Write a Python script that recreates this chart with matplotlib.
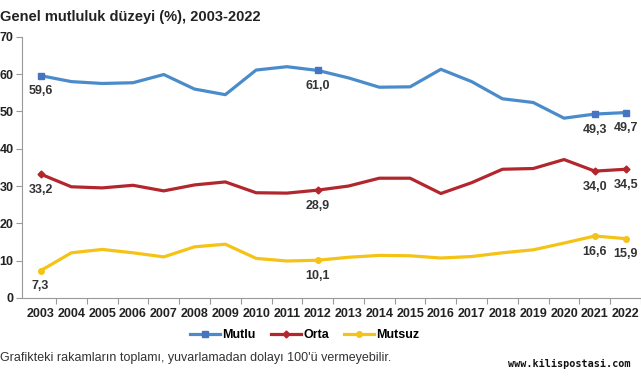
import matplotlib.pyplot as plt
import numpy as np

plt.rcParams['font.family'] = ['Liberation Sans', 'DejaVu Sans']

# Data
years = [str(y) for y in range(2003, 2023)]
mutlu = [59.6, 58.0, 57.5, 57.7, 59.9, 56.0, 54.5, 61.1, 62.0, 61.0,
         59.0, 56.5, 56.6, 61.3, 58.0, 53.4, 52.4, 48.2, 49.3, 49.7]
orta = [33.2, 29.8, 29.5, 30.2, 28.7, 30.3, 31.1, 28.2, 28.1, 28.9,
        30.0, 32.1, 32.1, 28.0, 30.9, 34.5, 34.7, 37.1, 34.0, 34.5]
mutsuz = [7.3, 12.1, 13.0, 12.1, 11.0, 13.7, 14.4, 10.6, 9.9, 10.1,
          10.9, 11.4, 11.3, 10.7, 11.1, 12.1, 12.9, 14.7, 16.6, 15.9]
labeled = [0, 9, 18, 19]

series = [
    ('Mutlu', mutlu, '#4a8ccb', 's', '#4575c0', 5),
    ('Orta', orta, '#b2272d', 'D', '#b2272d', 3.5),
    ('Mutsuz', mutsuz, '#f5c316', 'o', '#f5c316', 4),
]

fig = plt.figure(figsize=(6.41, 3.80), dpi=100)
ax = fig.add_axes([0.034, 0.216, 0.966, 0.687])

x = np.arange(len(years))
for name, vals, col, mk, mcol, ms in series:
    ax.plot(x, vals, color=col, lw=2.3, label=name, marker=mk,
            markevery=labeled, markersize=ms, markerfacecolor=mcol,
            markeredgecolor=mcol)
    for i in labeled:
        ax.annotate(f"{vals[i]:.1f}".replace('.', ','), (x[i], vals[i]),
                    xytext=(0, -7), textcoords='offset points',
                    ha='center', va='top', fontsize=9, fontweight='bold',
                    color='#333333')

ax.set_ylim(0, 70)
ax.set_xlim(-0.61, 19.33)
ax.set_yticks(range(0, 71, 10))
ax.set_xticks(x + 0.5)
ax.set_xticklabels([])
ax.set_xticks(x, minor=True)
ax.set_xticklabels(years, minor=True)
ax.tick_params(axis='x', which='major', length=4, color='#999999')
ax.tick_params(axis='x', which='minor', length=0, pad=7)
ax.tick_params(axis='y', length=4, color='#999999', pad=2)
for lab in ax.get_xticklabels(minor=True) + ax.get_yticklabels():
    lab.set_fontweight('bold')
    lab.set_fontsize(9)
    lab.set_color('#222222')

for s in ['top', 'right']:
    ax.spines[s].set_visible(False)
for s in ['left', 'bottom']:
    ax.spines[s].set_color('#999999')

leg = ax.legend(loc='center', bbox_to_anchor=(0.457, -0.142), ncol=3,
                frameon=False, handlelength=2.4, columnspacing=1.2,
                handletextpad=0.2, prop={'weight': 'bold', 'size': 9})

fig.text(0.0, 0.955, 'Genel mutluluk düzeyi (%), 2003-2022', fontsize=10.5,
         fontweight='bold', color='#222222', va='center', ha='left')
fig.text(0.0, 0.058, "Grafikteki rakamların toplamı, yuvarlamadan dolayı 100'ü vermeyebilir.",
         fontsize=9, color='#333333', va='center', ha='left')
fig.text(0.983, 0.042, 'www.kilispostasi.com', fontsize=7.3, family='DejaVu Sans Mono',
         fontweight='bold', color='#111111', va='center', ha='right')

fig.savefig('out.png', dpi=100, facecolor='white')
